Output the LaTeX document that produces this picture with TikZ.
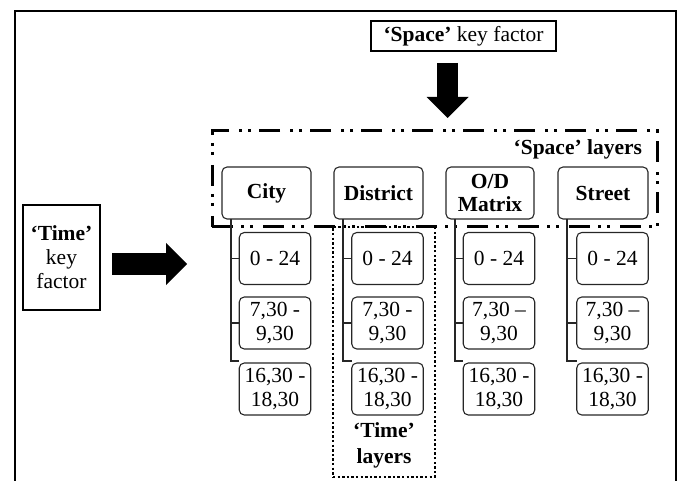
\documentclass[tikz,border=0pt]{standalone}
\usepackage{fontspec}
\setmainfont{Liberation Serif}
\usetikzlibrary{arrows.meta}
\begin{document}
\begin{tikzpicture}[x=1pt,y=-1pt,
  every node/.style={inner sep=0pt, outer sep=0pt, align=center, font=\fontsize{21.5}{24}\selectfont},
  layerbox/.style={draw=black!85, line width=1.1pt, rounded corners=5pt, minimum height=52pt},
  timebox/.style={draw=black!85, line width=1.1pt, rounded corners=5pt, minimum width=71.5pt, minimum height=52pt},
  keybox/.style={draw, line width=2pt},
  conn/.style={draw=black!85, line width=1.1pt},
  bigarrow/.style={line width=21.5pt, -{Triangle[length=21pt, width=42pt, line width=0pt]}},
  dashdotdot/.style={line width=3pt, dash pattern=on 21pt off 8pt on 3pt off 6pt on 3pt off 10pt},
  dotbox/.style={line width=2.4pt, dash pattern=on 2.4pt off 2.2pt}]
\useasboundingbox (0,0) rectangle (680,481);
% outer frame
\draw[line width=2.5pt] (15,481) -- (15,11) -- (676,11) -- (676,481);

% key factors
\node[keybox, minimum width=185pt, minimum height=30pt] (skf) at (463.5,36) {\textbf{‘Space’} key factor};
\node[keybox, minimum width=77pt, minimum height=105pt] (tkf) at (61.5,257.5) {\textbf{‘Time’}\\key\\factor};

% space layers container
\node[dashdotdot, draw, minimum width=445pt, minimum height=96pt] (sl) at (434.5,179) {};
\node[anchor=east, font=\fontsize{21.5}{24}\selectfont\bfseries] (sllab) at (642,149) {‘Space’ layers};

% time layers container
\node[dotbox, draw, minimum width=102pt, minimum height=250pt] (tl) at (384,352) {};
\node[font=\fontsize{21.5}{26}\selectfont\bfseries] (tllab) at (384,445) {‘Time’\\layers};

% arrows
\draw[bigarrow] ([xshift=-16pt,yshift=-12pt]skf.south) -- ([xshift=13pt,yshift=13pt]sl.north);
\coordinate (ta) at (187,264);
\draw[bigarrow] ([xshift=12pt,yshift=-6.5pt]tkf.east) -- (ta);

% space layer boxes
\node[layerbox, minimum width=89pt, font=\fontsize{21.5}{24}\selectfont\bfseries] (city) at (266.5,193) {City};
\node[layerbox, minimum width=89pt, font=\fontsize{21.5}{24}\selectfont\bfseries] (dist) at (378.5,193) {District};
\node[layerbox, minimum width=88pt, font=\fontsize{21.5}{23}\selectfont\bfseries] (od) at (490,193) {O/D\\Matrix};
\node[layerbox, minimum width=90pt, font=\fontsize{21.5}{24}\selectfont\bfseries] (street) at (603,193) {Street};

% time boxes
\foreach \n/\x/\d in {city/275/-, dist/387.5/-, od/499/–, street/612.5/–}{
  \node[timebox] (\n1) at (\x,258.5) {0 - 24};
  \node[timebox] (\n2) at (\x,323) {7,30 \d\\9,30};
  \node[timebox] (\n3) at (\x,389) {16,30 -\\18,30};
  \coordinate (\n t) at ([xshift=9pt]\n.south west);
  \draw[conn] (\n t) |- ([yshift=2pt]\n3.north west);
  \draw[conn] (\n1.west -| \n t) -- (\n1.west);
  \draw[conn] (\n2.west -| \n t) -- (\n2.west);
}
\end{tikzpicture}
\end{document}
